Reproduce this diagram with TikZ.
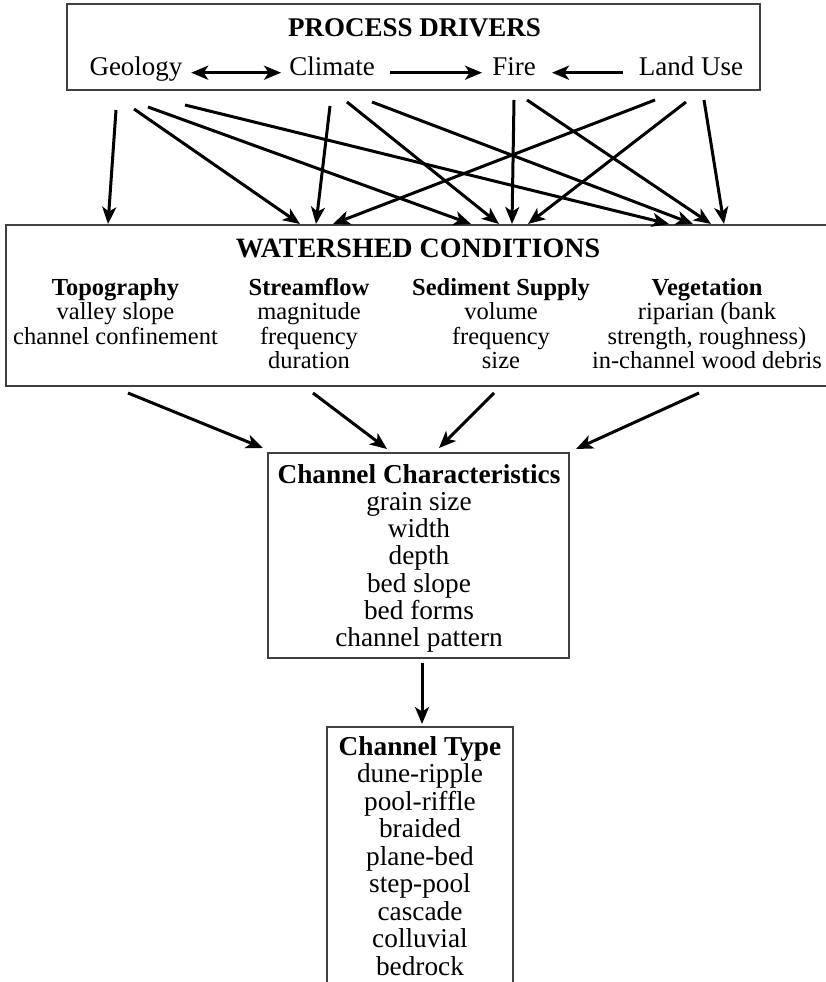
\documentclass[tikz,border=0pt]{standalone}
\usepackage{fontspec}
\setmainfont{Liberation Serif}
\usetikzlibrary{arrows.meta}
\newcommand\myfs[2]{\fontsize{#1}{#2}\selectfont}
\newcommand\txtstack[1]{\begin{tabular}[t]{@{}c@{}}#1\end{tabular}}
\begin{document}
\begin{tikzpicture}[x=1pt,y=-1pt,
  boxst/.style={draw=black!75, line width=1.3pt, inner sep=0pt},
  txt/.style={inner sep=0pt, anchor=base},
  arr/.style={line width=3pt, -{Stealth[length=17pt,width=14pt,inset=4.5pt]}},
  darr/.style={line width=3pt, {Stealth[length=17pt,width=14pt,inset=4.5pt]}-{Stealth[length=17pt,width=14pt,inset=4.5pt]}}]
\useasboundingbox (0,0) rectangle (826,982);
\clip (0,0) rectangle (826,982);
\fill[white] (0,0) rectangle (826,982);

% boxes
\node[boxst, minimum width=693pt, minimum height=86pt] (drivers) at (413.5,47) {};
\node[boxst, minimum width=834pt, minimum height=161pt] (ws) at (423,305.5) {};
\node[boxst, minimum width=301pt, minimum height=205pt] (cc) at (418.5,555.5) {};
\node[boxst, minimum width=186pt, minimum height=283pt] (ct) at (420,868.5) {};

% process drivers
\node[txt, font=\bfseries\myfs{27}{27}] (pdt) at (414.5,37) {PROCESS DRIVERS};
\node[txt, font=\myfs{27}{27}] (geology) at (136,75) {Geology};
\node[txt, font=\myfs{27}{27}] (climate) at (332,75) {Climate};
\node[txt, font=\myfs{27}{27}] (fire) at (514,75) {Fire};
\node[txt, font=\myfs{27}{27}] (landuse) at (691,75) {Land Use};

\draw[darr] ([xshift=8.5pt]geology.mid east) -- ([xshift=-8pt]climate.mid west);
\draw[arr] ([xshift=15pt]climate.mid east) -- ([xshift=-10pt]fire.mid west);
\draw[arr] ([xshift=-16pt]landuse.mid west) -- ([xshift=16pt]fire.mid east);

% watershed conditions
\node[txt, font=\bfseries\myfs{28}{28}] (wst) at (418,257) {WATERSHED CONDITIONS};
\node[txt, font=\myfs{24.5}{24.5}] (topo) at (115.5,295) {\txtstack{\textbf{Topography}\\valley slope\\channel confinement}};
\node[txt, font=\myfs{24.5}{24.5}] (flow) at (309,295) {\txtstack{\textbf{Streamflow}\\magnitude\\frequency\\duration}};
\node[txt, font=\myfs{24.5}{24.5}] (sed) at (501,295) {\txtstack{\textbf{Sediment Supply}\\volume\\frequency\\size}};
\node[txt, font=\myfs{24.5}{24.5}] (veg) at (707,295) {\txtstack{\textbf{Vegetation}\\riparian (bank\\strength, roughness)\\in-channel wood debris}};

% channel characteristics
\node[txt, font=\myfs{27.3}{27.3}] (cct) at (419,483) {\txtstack{\textbf{Channel Characteristics}\\grain size\\width\\depth\\bed slope\\bed forms\\channel pattern}};
% channel type
\node[txt, font=\myfs{27.3}{27.5}] (ctt) at (420,755) {\txtstack{\textbf{Channel Type}\\dune-ripple\\pool-riffle\\braided\\plane-bed\\step-pool\\cascade\\colluvial\\bedrock}};

% connector end points
\coordinate (g1) at (116,110); \coordinate (g2) at (134,109);
\coordinate (g3) at (148,107); \coordinate (g4) at (185,105);
\coordinate (c1) at (330,106); \coordinate (c2) at (347,102); \coordinate (c3) at (372,102);
\coordinate (f1) at (514,100); \coordinate (f2) at (527,100);
\coordinate (l1) at (655,100); \coordinate (l2) at (686,102); \coordinate (l3) at (704,100);

\coordinate (wt1) at (108,224);
\coordinate (ws1) at (300,224); \coordinate (ws2) at (316,224); \coordinate (ws3) at (333,224);
\coordinate (wd1) at (471,224); \coordinate (wd2) at (499,224); \coordinate (wd3) at (512,224); \coordinate (wd4) at (528,224);
\coordinate (wv1) at (669,224); \coordinate (wv2) at (693,224); \coordinate (wv3) at (711,224); \coordinate (wv4) at (724,224);

\draw[arr] (g1) -- (wt1);
\draw[arr] (g2) -- (ws1);
\draw[arr] (g3) -- (wd1);
\draw[arr] (g4) -- (wv1);
\draw[arr] (c1) -- (ws2);
\draw[arr] (c2) -- (wd2);
\draw[arr] (c3) -- (wv2);
\draw[arr] (f1) -- (wd3);
\draw[arr] (f2) -- (wv3);
\draw[arr] (l1) -- (ws3);
\draw[arr] (l2) -- (wd4);
\draw[arr] (l3) -- (wv4);

% watershed -> channel characteristics
\coordinate (b1) at (128,393); \coordinate (b2) at (313,393);
\coordinate (b3) at (494,393); \coordinate (b4) at (699,393);
\coordinate (e1) at (263,448); \coordinate (e2) at (387,449);
\coordinate (e3) at (439,448); \coordinate (e4) at (576,449);
\draw[arr] (b1) -- (e1);
\draw[arr] (b2) -- (e2);
\draw[arr] (b3) -- (e3);
\draw[arr] (b4) -- (e4);

% channel characteristics -> channel type
\coordinate (d1) at (422,663); \coordinate (d2) at (422,724);
\draw[arr] (d1) -- (d2);
\end{tikzpicture}
\end{document}
